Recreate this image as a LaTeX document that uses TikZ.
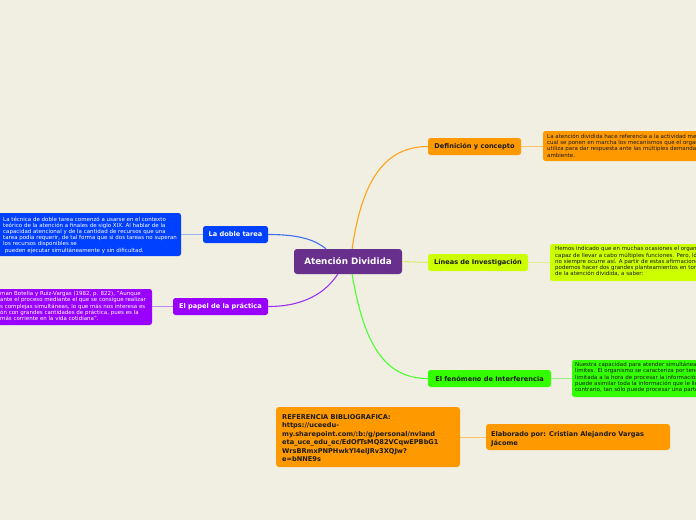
\documentclass[tikz,border=0pt]{standalone}
\usepackage{fontspec}
\setmainfont{DejaVu Sans}
\usetikzlibrary{calc}
\definecolor{bg}{HTML}{F1EFE2}
\definecolor{corange}{HTML}{FF9900}
\definecolor{cyell}{HTML}{CCFF00}
\definecolor{cgreen}{HTML}{33FF00}
\definecolor{cblue}{HTML}{0040FF}
\definecolor{cpurp}{HTML}{9900FF}
\definecolor{ccent}{HTML}{68308C}
\definecolor{lorange}{HTML}{FFA31A}
\definecolor{lyell}{HTML}{D8F070}
\definecolor{lgreen}{HTML}{4CFF33}
\definecolor{lblue}{HTML}{3F6FF0}
\definecolor{lpurp}{HTML}{9933EE}
\definecolor{sorange}{HTML}{FFC266}
\definecolor{syell}{HTML}{E0F090}
\definecolor{sgreen}{HTML}{99EE88}
\definecolor{sblue}{HTML}{99B3EE}
\definecolor{spurp}{HTML}{C08AEE}
\definecolor{ink}{HTML}{1A1A1A}
\begin{document}
\begin{tikzpicture}[x=1pt,y=-1pt,
  box/.style={rounded corners=2.5pt, inner sep=0pt, draw=none},
  lbl/.style={box, minimum height=17pt, font=\fontsize{6.6}{8}\selectfont\bfseries},
  txt/.style={inner sep=0pt, align=left, anchor=north west, font=\fontsize{5.5}{6.2}\selectfont},
  btxt/.style={inner sep=0pt, align=left, anchor=north west, font=\fontsize{6.6}{8.5}\selectfont\bfseries, text=ink},
  mainline/.style={line width=1.1pt},
  subline/.style={line width=0.9pt}]
\useasboundingbox (0,0) rectangle (696,520);
\fill[bg] (0,0) rectangle (696,520);
\clip (0,0) rectangle (696,520);

% central
\node[box, fill=ccent, minimum width=108pt, minimum height=25pt, rounded corners=3pt,
      text=white, font=\fontsize{8.8}{10}\selectfont\bfseries] (central) at (348,261.5) {Atención Dividida};

% branch labels
\node[lbl, fill=corange, minimum width=93pt, text=ink] (def) at (474.5,146.5) {Definición y concepto};
\node[lbl, fill=cyell, minimum width=100pt, text=ink] (lin) at (478,262.5) {Líneas de Investigación};
\node[lbl, fill=cgreen, minimum width=123pt, text=ink] (fen) at (489.5,378.5) {El fenómeno de Interferencia};
\node[lbl, fill=cblue, minimum width=65pt, text=white] (dob) at (235.5,234.5) {La doble tarea};
\node[lbl, fill=cpurp, minimum width=95pt, text=white] (pap) at (220.5,306.5) {El papel de la práctica};

% text boxes
\node[box, fill=corange, minimum width=170pt, minimum height=30pt] (dt) at (628,146) {};
\node[box, fill=cyell, minimum width=160pt, minimum height=37pt] (lt) at (630,262.5) {};
\node[box, fill=cgreen, minimum width=140pt, minimum height=37pt] (ft) at (642,378.5) {};
\node[box, fill=cblue, minimum width=191pt, minimum height=43pt] (bt) at (85.5,234.5) {};
\node[box, fill=cpurp, minimum width=167pt, minimum height=36pt] (pt) at (68.5,307) {};

\node[txt, text=ink] (dtt) at (547,133.8) {La atención dividida hace referencia a la actividad mediante la\\
cual se ponen en marcha los mecanismos que el organismo\\
utiliza para dar respuesta ante las múltiples demandas del\\
ambiente.};
\node[txt, text=ink] (ltt) at (555,246.6) {Hemos indicado que en muchas ocasiones el organismo es\\
capaz de llevar a cabo múltiples funciones. Pero, lógicamente,\\
no siempre ocurre así. A partir de estas afirmaciones\\
podemos hacer dos grandes planteamientos en torno al estudio\\
de la atención dividida, a saber:};
\node[txt, text=ink] (ftt) at (575,362.1) {Nuestra capacidad para atender simultáneamente tiene sus\\
límites. El organismo se caracteriza por tener una capacidad\\
limitada a la hora de procesar la información, de modo que no\\
puede asimilar toda la información que le llega, sino que, por el\\
contrario, tan sólo puede procesar una parte de ella.};
\node[txt, text=white] (btt) at (3,216.4) {La técnica de doble tarea comenzó a usarse en el contexto\\
teórico de la atención a finales de siglo XIX. Al hablar de la\\
capacidad atencional y de la cantidad de recursos que una\\
tarea podía requerir, de tal forma que si dos tareas no superan\\
los recursos disponibles se\\
\ pueden ejecutar simultáneamente y sin dificultad.};
\node[txt, text=white] (ptt) at (0,291.3) {man Botella y Ruiz-Vargas (1982, p. 822), "Aunque\\
ante el proceso mediante el que se consigue realizar\\
s complejas simultáneas, lo que más nos interesa es\\
ón con grandes cantidades de práctica, pues es la\\
más corriente en la vida cotidiana".};

% bottom boxes
\node[box, fill=corange, minimum width=184pt, minimum height=60pt, rounded corners=3pt] (ref) at (368,437) {};
\node[box, fill=corange, minimum width=184pt, minimum height=26pt, rounded corners=3pt] (ela) at (578,437) {};
\node[btxt] (reft) at (282,414.2) {REFERENCIA BIBLIOGRAFICA:\\
https://uceedu-\\
my.sharepoint.com/:b:/g/personal/nvland\\
eta\_uce\_edu\_ec/EdOfTsMQ82VCqwEPBbG1\\
WrsBRmxPNPHwkYl4elJRv3XQJw?\\
e=bNNE9s};
\node[btxt] (elat) at (491,431.5) {Elaborado por: Cristian Alejandro Vargas\\
Jácome};

% main connectors
\draw[mainline, lorange] (central.72) .. controls (362,180) and (385,146.5) .. (def.west);
\draw[mainline, lyell] (central.east) -- (lin.west);
\draw[mainline, lgreen] (central.-72) .. controls (364,345) and (385,378.5) .. (fen.west);
\draw[mainline, lblue] (dob.east) .. controls (300,234.5) and (315,240) .. (central.150);
\draw[mainline, lpurp] (pap.east) .. controls (305,306.5) and (326,292) .. (central.231);

% sub connectors
\draw[subline, sorange] (def.east) -- (dt.west |- def.east);
\draw[subline, syell] (lin.east) -- (lt.west |- lin.east);
\draw[subline, sgreen] (fen.east) -- (ft.west |- fen.east);
\draw[subline, sblue] (dob.west) -- (bt.east |- dob.west);
\draw[subline, spurp] (pap.west) -- (pt.east |- pap.west);
\draw[subline, sorange] (ref.east) -- (ela.west);
\end{tikzpicture}
\end{document}
